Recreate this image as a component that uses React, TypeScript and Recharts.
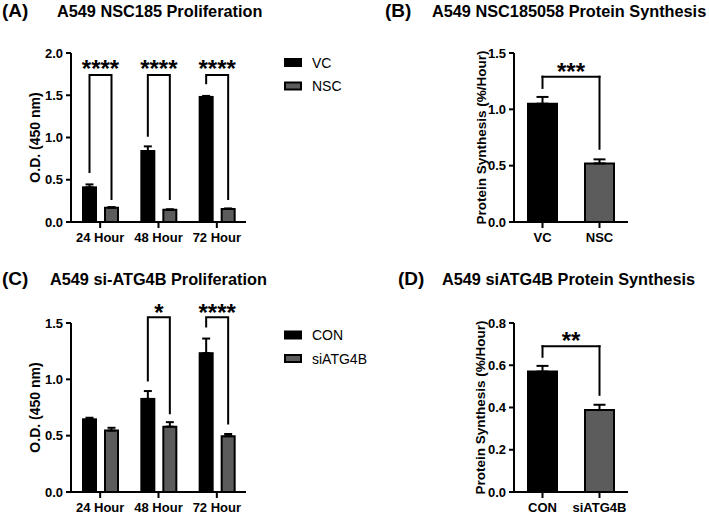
import React from 'react';
import { BarChart, Bar, XAxis, YAxis, ErrorBar, Cell, ReferenceLine } from 'recharts';

const FONT = '"Liberation Sans", Arial, Helvetica, sans-serif';
const BLACK = '#000000';
const GRAY = '#5c5c5c';
const STAR_FS = 24;

// ---------- Panel A : A549 NSC185 Proliferation ----------
const hoursA = ['24 Hour', '48 Hour', '72 Hour'];
const seriesA = ['VC', 'NSC'];
const vcMeanA = [0.41, 0.84, 1.48];
const vcSemA = [0.035, 0.055, 0.012];
const nscMeanA = [0.17, 0.145, 0.155];
const nscSemA = [0.006, 0.005, 0.005];
const sigA = ['****', '****', '****'];
const bracketTopA = [1.74, 1.74, 1.74];
const bracketLeftEndA = [0.58, 1.01, 1.63];
const bracketRightEndA = [0.26, 0.26, 0.26];
const starLevelA = [1.875, 1.875, 1.875];
const ticksA = [0, 0.5, 1.0, 1.5, 2.0];

// ---------- Panel B : A549 NSC185058 Protein Synthesis ----------
const catsB = ['VC', 'NSC'];
const meanB = [1.05, 0.52];
const semB = [0.06, 0.036];
const sigB = '***';
const bracketB = { top: 1.29, left: 1.19, right: 0.65 };
const ticksB = [0, 0.5, 1.0, 1.5];

// ---------- Panel C : A549 si-ATG4B Proliferation ----------
const hoursC = ['24 Hour', '48 Hour', '72 Hour'];
const seriesC = ['CON', 'siATG4B'];
const conMeanC = [0.645, 0.826, 1.232];
const conSemC = [0.014, 0.07, 0.13];
const siMeanC = [0.545, 0.58, 0.495];
const siSemC = [0.025, 0.04, 0.02];
const sigC = ['', '*', '****'];
const bracketTopC = [0, 1.55, 1.55];
const bracketLeftEndC = [0, 0.98, 1.46];
const bracketRightEndC = [0, 0.69, 0.6];
const starLevelC = [0, 1.64, 1.64];
const ticksC = [0, 0.5, 1.0, 1.5];

// ---------- Panel D : A549 siATG4B Protein Synthesis ----------
const catsD = ['CON', 'siATG4B'];
const meanD = [0.57, 0.388];
const semD = [0.027, 0.025];
const sigD = '**';
const bracketD = { top: 0.69, left: 0.64, right: 0.46 };
const ticksD = [0, 0.2, 0.4, 0.6, 0.8];

const BAR_G = 13;
const GAP_G = 9;

const dataA = hoursA.map((h, i) => ({
  cat: h,
  m1: vcMeanA[i],
  e1: [0, vcSemA[i]],
  m2: nscMeanA[i],
  e2: [0, nscSemA[i]],
}));
const dataC = hoursC.map((h, i) => ({
  cat: h,
  m1: conMeanC[i],
  e1: [0, conSemC[i]],
  m2: siMeanC[i],
  e2: [0, siSemC[i]],
}));
const dataB = catsB.map((c, i) => ({ cat: c, v: meanB[i], err: [0, semB[i]] }));
const dataD = catsD.map((c, i) => ({ cat: c, v: meanD[i], err: [0, semD[i]] }));

const tickStyle = { fill: BLACK, fontSize: 13, fontWeight: 700, fontFamily: FONT };
const fmt = (v: number) => v.toFixed(1);

function makeBracketShape(
  sig: string[],
  tops: number[],
  lefts: number[],
  rights: number[],
  stars: number[]
) {
  return (props: any) => {
    const { x, y, width, height, index, payload } = props;
    const mean = payload.m1;
    const base = y + height;
    const k = mean ? height / mean : 0;
    const cx1 = x + width / 2;
    const cx2 = cx1 + width + GAP_G;
    const s = sig[index];
    return (
      <g>
        <rect x={x} y={y} width={width} height={height} fill={BLACK} stroke={BLACK} strokeWidth={2} />
        {s ? (
          <g>
            <path
              d={`M${cx1},${base - lefts[index] * k}V${base - tops[index] * k}H${cx2}V${base - rights[index] * k}`}
              fill="none"
              stroke={BLACK}
              strokeWidth={2}
            />
            <text
              x={(cx1 + cx2) / 2}
              y={base - stars[index] * k + 0.575 * STAR_FS}
              textAnchor="middle"
              fontSize={STAR_FS}
              fontWeight={700}
              fontFamily={FONT}
              fill={BLACK}
            >
              {s}
            </text>
          </g>
        ) : null}
      </g>
    );
  };
}

function GroupedChart(props: { data: any[]; ticks: number[]; max: number; shape: any }) {
  const { data, ticks, max, shape } = props;
  return (
    <BarChart
      width={260}
      height={247}
      data={data}
      margin={{ top: 53, right: 14, bottom: 0, left: 14 }}
      barSize={BAR_G}
      barGap={GAP_G}
    >
      <XAxis
        dataKey="cat"
        interval={0}
        height={25}
        tick={tickStyle}
        tickSize={6}
        tickMargin={5}
        axisLine={{ stroke: BLACK, strokeWidth: 2 }}
        tickLine={{ stroke: BLACK, strokeWidth: 2 }}
      />
      <YAxis
        width={57}
        domain={[0, max]}
        ticks={ticks}
        tickFormatter={fmt}
        tick={tickStyle}
        tickSize={5}
        tickMargin={3}
        axisLine={{ stroke: BLACK, strokeWidth: 2 }}
        tickLine={{ stroke: BLACK, strokeWidth: 2 }}
      />
      <Bar dataKey="m1" fill={BLACK} stroke={BLACK} strokeWidth={2} shape={shape} isAnimationActive={false}>
        <ErrorBar dataKey="e1" width={4} strokeWidth={2} stroke={BLACK} direction="y" />
      </Bar>
      <Bar dataKey="m2" fill={GRAY} stroke={BLACK} strokeWidth={2} isAnimationActive={false}>
        <ErrorBar dataKey="e2" width={4} strokeWidth={2} stroke={BLACK} direction="y" />
      </Bar>
    </BarChart>
  );
}

function PairChart(props: {
  data: any[];
  cats: string[];
  ticks: number[];
  max: number;
  sig: string;
  br: { top: number; left: number; right: number };
}) {
  const { data, cats, ticks, max, sig, br } = props;
  const lineProps = { stroke: BLACK, strokeWidth: 2, strokeLinecap: 'square' as const };
  return (
    <BarChart
      width={240}
      height={247}
      data={data}
      margin={{ top: 53, right: 12, bottom: 0, left: 74 }}
      barSize={29}
    >
      <XAxis
        dataKey="cat"
        interval={0}
        height={25}
        tick={tickStyle}
        tickSize={6}
        tickMargin={5}
        axisLine={{ stroke: BLACK, strokeWidth: 2 }}
        tickLine={{ stroke: BLACK, strokeWidth: 2 }}
      />
      <YAxis
        width={40}
        domain={[0, max]}
        ticks={ticks}
        tickFormatter={fmt}
        tick={tickStyle}
        tickSize={5}
        tickMargin={3}
        axisLine={{ stroke: BLACK, strokeWidth: 2 }}
        tickLine={{ stroke: BLACK, strokeWidth: 2 }}
      />
      <Bar dataKey="v" stroke={BLACK} strokeWidth={2} isAnimationActive={false}>
        {data.map((_, i) => (
          <Cell key={i} fill={i === 0 ? BLACK : GRAY} />
        ))}
        <ErrorBar dataKey="err" width={6} strokeWidth={2} stroke={BLACK} direction="y" />
      </Bar>
      <ReferenceLine segment={[{ x: cats[0], y: br.left }, { x: cats[0], y: br.top }]} {...lineProps} />
      <ReferenceLine
        segment={[{ x: cats[0], y: br.top }, { x: cats[1], y: br.top }]}
        {...lineProps}
        label={{
          value: sig,
          position: 'top',
          offset: -3,
          fill: BLACK,
          fontSize: STAR_FS,
          fontWeight: 700,
          fontFamily: FONT,
        }}
      />
      <ReferenceLine segment={[{ x: cats[1], y: br.top }, { x: cats[1], y: br.right }]} {...lineProps} />
    </BarChart>
  );
}

const shapeA = makeBracketShape(sigA, bracketTopA, bracketLeftEndA, bracketRightEndA, starLevelA);
const shapeC = makeBracketShape(sigC, bracketTopC, bracketLeftEndC, bracketRightEndC, starLevelC);

function Legend2(props: { names: string[]; x: number; y: number }) {
  const { names, x, y } = props;
  return (
    <g>
      {names.map((n, i) => (
        <g key={n}>
          <rect
            x={i === 0 ? x : x + 1}
            y={i === 0 ? y + i * 23.5 - 4.5 : y + i * 23.5 - 3.5}
            width={i === 0 ? 18 : 16}
            height={i === 0 ? 9 : 7}
            fill={i === 0 ? BLACK : GRAY}
            stroke={BLACK}
            strokeWidth={i === 0 ? 0 : 2}
          />
          <text x={x + 28} y={y + i * 23.5 + 5} fontSize={14} fontFamily={FONT} fill={BLACK}>
            {n}
          </text>
        </g>
      ))}
    </g>
  );
}

export default function App() {
  const titleStyle = { fontFamily: FONT, fontWeight: 700, fill: BLACK } as const;
  return (
    <div
      style={{
        position: 'absolute',
        left: 0,
        top: 0,
        width: 709,
        height: 515,
        overflow: 'hidden',
        background: '#ffffff',
        fontFamily: FONT,
      }}
    >
      <div style={{ position: 'absolute', left: 0, top: 0 }}>
        <GroupedChart data={dataA} ticks={ticksA} max={2} shape={shapeA} />
      </div>
      <div style={{ position: 'absolute', left: 0, top: 270 }}>
        <GroupedChart data={dataC} ticks={ticksC} max={1.5} shape={shapeC} />
      </div>
      <div style={{ position: 'absolute', left: 400, top: 0 }}>
        <PairChart data={dataB} cats={catsB} ticks={ticksB} max={1.5} sig={sigB} br={bracketB} />
      </div>
      <div style={{ position: 'absolute', left: 400, top: 270 }}>
        <PairChart data={dataD} cats={catsD} ticks={ticksD} max={0.8} sig={sigD} br={bracketD} />
      </div>
      <svg
        width={709}
        height={515}
        style={{ position: 'absolute', left: 0, top: 0, pointerEvents: 'none' }}
      >
        {/* panel titles */}
        <text x={2} y={16.5} fontSize={19} {...titleStyle}>(A)</text>
        <text x={57} y={16.5} fontSize={16.3} {...titleStyle}>A549 NSC185 Proliferation</text>
        <text x={385} y={16.5} fontSize={19} {...titleStyle}>(B)</text>
        <text x={432} y={16.5} fontSize={16.3} {...titleStyle}>A549 NSC185058 Protein Synthesis</text>
        <text x={2} y={284.5} fontSize={19} {...titleStyle}>(C)</text>
        <text x={50} y={284.5} fontSize={16.3} {...titleStyle}>A549 si-ATG4B Proliferation</text>
        <text x={398} y={284.5} fontSize={19} {...titleStyle}>(D)</text>
        <text x={442} y={284.5} fontSize={16.3} {...titleStyle}>A549 siATG4B Protein Synthesis</text>

        {/* y axis titles */}
        <text x={0} y={0} transform="translate(40,137.5) rotate(-90)" textAnchor="middle" fontSize={14} {...titleStyle}>
          O.D. (450 nm)
        </text>
        <text x={0} y={0} transform="translate(40,407.5) rotate(-90)" textAnchor="middle" fontSize={14} {...titleStyle}>
          O.D. (450 nm)
        </text>
        <text x={0} y={0} transform="translate(486,137.5) rotate(-90)" textAnchor="middle" fontSize={13.5} {...titleStyle}>
          Protein Synthesis (%/Hour)
        </text>
        <text x={0} y={0} transform="translate(485,407.5) rotate(-90)" textAnchor="middle" fontSize={13.5} {...titleStyle}>
          Protein Synthesis (%/Hour)
        </text>

        {/* legends */}
        <Legend2 names={seriesA} x={284} y={62.5} />
        <Legend2 names={seriesC} x={284} y={335} />
      </svg>
    </div>
  );
}
